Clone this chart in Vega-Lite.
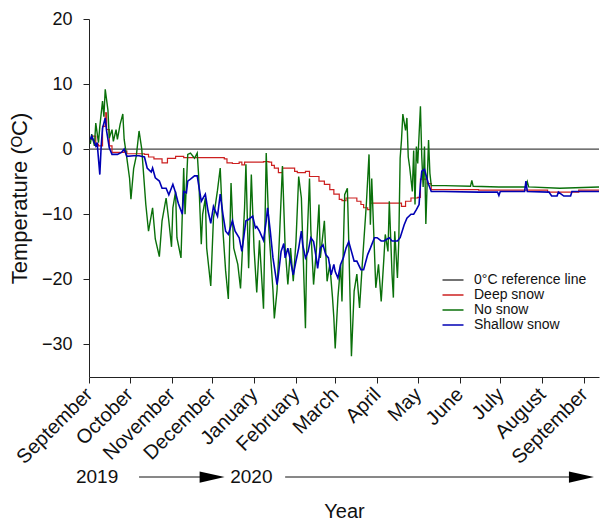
{
  "$schema": "https://vega.github.io/schema/vega-lite/v6.json",
  "padding": {"left": 8, "top": 10, "right": 0, "bottom": 0},
  "background": "white",
  "config": {
    "view": {"stroke": null},
    "font": "Liberation Sans",
    "axis": {"grid": false, "domainColor": "#222", "tickColor": "#222", "labelColor": "#111", "titleColor": "#111", "labelFont": "Liberation Sans", "titleFont": "Liberation Sans", "titleFontWeight": "normal", "tickSize": 6}
  },
  "datasets": {
    "ref": [{"s": "0°C reference line", "t": 0}],
    "years": [{"d": "2019-09-07", "label": "2019"}, {"d": "2019-12-30", "label": "2020"}],
    "arrows": [{"start": "2019-10-08", "end": "2019-12-01"}, {"start": "2020-01-24", "end": "2020-08-30"}],
    "temps": [
      {"d":"2019-09-02","s":"Deep snow","t":1.5},{"d":"2019-09-03","s":"Deep snow","t":2.0},{"d":"2019-09-06","s":"Deep snow","t":0.8},{"d":"2019-09-08","s":"Deep snow","t":0.5},{"d":"2019-09-11","s":"Deep snow","t":3.5},{"d":"2019-09-13","s":"Deep snow","t":5.6},{"d":"2019-09-14","s":"Deep snow","t":3.0},{"d":"2019-09-16","s":"Deep snow","t":0.5},{"d":"2019-09-18","s":"Deep snow","t":-0.5},{"d":"2019-09-27","s":"Deep snow","t":-0.3},{"d":"2019-09-29","s":"Deep snow","t":-0.7},{"d":"2019-10-08","s":"Deep snow","t":-0.7},{"d":"2019-10-12","s":"Deep snow","t":-0.8},{"d":"2019-10-15","s":"Deep snow","t":-1.2},{"d":"2019-10-19","s":"Deep snow","t":-1.5},{"d":"2019-10-23","s":"Deep snow","t":-1.5},{"d":"2019-10-25","s":"Deep snow","t":-2.1},{"d":"2019-10-29","s":"Deep snow","t":-1.4},{"d":"2019-11-04","s":"Deep snow","t":-1.1},{"d":"2019-11-10","s":"Deep snow","t":-1.3},{"d":"2019-11-21","s":"Deep snow","t":-1.3},{"d":"2019-12-10","s":"Deep snow","t":-1.5},{"d":"2019-12-12","s":"Deep snow","t":-2.1},{"d":"2019-12-16","s":"Deep snow","t":-2.2},{"d":"2019-12-21","s":"Deep snow","t":-2.0},{"d":"2019-12-23","s":"Deep snow","t":-2.4},{"d":"2019-12-25","s":"Deep snow","t":-2.0},{"d":"2020-01-08","s":"Deep snow","t":-1.9},{"d":"2020-01-12","s":"Deep snow","t":-2.0},{"d":"2020-01-14","s":"Deep snow","t":-2.5},{"d":"2020-01-16","s":"Deep snow","t":-2.9},{"d":"2020-01-19","s":"Deep snow","t":-3.6},{"d":"2020-01-22","s":"Deep snow","t":-2.9},{"d":"2020-01-28","s":"Deep snow","t":-2.9},{"d":"2020-01-31","s":"Deep snow","t":-3.4},{"d":"2020-02-02","s":"Deep snow","t":-3.6},{"d":"2020-02-08","s":"Deep snow","t":-3.4},{"d":"2020-02-11","s":"Deep snow","t":-4.2},{"d":"2020-02-16","s":"Deep snow","t":-4.2},{"d":"2020-02-18","s":"Deep snow","t":-4.9},{"d":"2020-02-22","s":"Deep snow","t":-5.4},{"d":"2020-02-26","s":"Deep snow","t":-6.2},{"d":"2020-02-29","s":"Deep snow","t":-6.9},{"d":"2020-03-04","s":"Deep snow","t":-7.7},{"d":"2020-03-06","s":"Deep snow","t":-7.9},{"d":"2020-03-09","s":"Deep snow","t":-7.5},{"d":"2020-03-15","s":"Deep snow","t":-7.5},{"d":"2020-03-17","s":"Deep snow","t":-8.0},{"d":"2020-03-20","s":"Deep snow","t":-8.5},{"d":"2020-03-22","s":"Deep snow","t":-9.0},{"d":"2020-03-25","s":"Deep snow","t":-9.3},{"d":"2020-03-27","s":"Deep snow","t":-8.3},{"d":"2020-04-17","s":"Deep snow","t":-8.3},{"d":"2020-04-19","s":"Deep snow","t":-8.8},{"d":"2020-04-22","s":"Deep snow","t":-8.0},{"d":"2020-04-26","s":"Deep snow","t":-7.5},{"d":"2020-05-01","s":"Deep snow","t":-7.4},{"d":"2020-05-03","s":"Deep snow","t":-4.6},{"d":"2020-05-06","s":"Deep snow","t":-4.6},{"d":"2020-05-08","s":"Deep snow","t":-5.3},{"d":"2020-05-11","s":"Deep snow","t":-6.2},{"d":"2020-06-15","s":"Deep snow","t":-6.3},{"d":"2020-07-31","s":"Deep snow","t":-6.3},{"d":"2020-08-05","s":"Deep snow","t":-6.6},{"d":"2020-08-25","s":"Deep snow","t":-6.6},{"d":"2020-08-28","s":"Deep snow","t":-6.3},{"d":"2020-09-12","s":"Deep snow","t":-6.3},

      {"d":"2019-09-02","s":"No snow","t":0.8},{"d":"2019-09-03","s":"No snow","t":2.3},{"d":"2019-09-05","s":"No snow","t":0.5},{"d":"2019-09-06","s":"No snow","t":4.0},{"d":"2019-09-08","s":"No snow","t":1.0},{"d":"2019-09-09","s":"No snow","t":3.5},{"d":"2019-09-11","s":"No snow","t":7.4},{"d":"2019-09-12","s":"No snow","t":5.0},{"d":"2019-09-13","s":"No snow","t":9.2},{"d":"2019-09-15","s":"No snow","t":6.0},{"d":"2019-09-16","s":"No snow","t":1.7},{"d":"2019-09-18","s":"No snow","t":3.0},{"d":"2019-09-19","s":"No snow","t":1.2},{"d":"2019-09-21","s":"No snow","t":3.0},{"d":"2019-09-22","s":"No snow","t":1.5},{"d":"2019-09-24","s":"No snow","t":3.8},{"d":"2019-09-26","s":"No snow","t":5.4},{"d":"2019-09-27","s":"No snow","t":1.5},{"d":"2019-09-29","s":"No snow","t":-1.4},{"d":"2019-10-01","s":"No snow","t":-4.5},{"d":"2019-10-02","s":"No snow","t":-7.7},{"d":"2019-10-04","s":"No snow","t":-3.0},{"d":"2019-10-06","s":"No snow","t":-1.0},{"d":"2019-10-08","s":"No snow","t":2.8},{"d":"2019-10-10","s":"No snow","t":0.0},{"d":"2019-10-13","s":"No snow","t":-8.5},{"d":"2019-10-15","s":"No snow","t":-12.6},{"d":"2019-10-18","s":"No snow","t":-9.0},{"d":"2019-10-20","s":"No snow","t":-13.8},{"d":"2019-10-23","s":"No snow","t":-16.5},{"d":"2019-10-25","s":"No snow","t":-11.0},{"d":"2019-10-28","s":"No snow","t":-7.5},{"d":"2019-10-30","s":"No snow","t":-11.0},{"d":"2019-11-01","s":"No snow","t":-15.0},{"d":"2019-11-02","s":"No snow","t":-9.0},{"d":"2019-11-04","s":"No snow","t":-6.5},{"d":"2019-11-05","s":"No snow","t":-13.6},{"d":"2019-11-08","s":"No snow","t":-16.7},{"d":"2019-11-10","s":"No snow","t":-2.9},{"d":"2019-11-11","s":"No snow","t":-10.0},{"d":"2019-11-13","s":"No snow","t":-0.8},{"d":"2019-11-15","s":"No snow","t":-0.6},{"d":"2019-11-18","s":"No snow","t":-1.4},{"d":"2019-11-20","s":"No snow","t":-0.6},{"d":"2019-11-21","s":"No snow","t":-3.9},{"d":"2019-11-23","s":"No snow","t":-14.6},{"d":"2019-11-24","s":"No snow","t":-10.0},{"d":"2019-11-26","s":"No snow","t":-7.5},{"d":"2019-11-27","s":"No snow","t":-15.2},{"d":"2019-11-30","s":"No snow","t":-21.0},{"d":"2019-12-02","s":"No snow","t":-10.6},{"d":"2019-12-05","s":"No snow","t":-6.3},{"d":"2019-12-07","s":"No snow","t":-2.9},{"d":"2019-12-09","s":"No snow","t":-12.5},{"d":"2019-12-11","s":"No snow","t":-18.7},{"d":"2019-12-13","s":"No snow","t":-23.0},{"d":"2019-12-15","s":"No snow","t":-5.2},{"d":"2019-12-17","s":"No snow","t":-15.2},{"d":"2019-12-20","s":"No snow","t":-17.7},{"d":"2019-12-22","s":"No snow","t":-21.4},{"d":"2019-12-25","s":"No snow","t":-9.0},{"d":"2019-12-26","s":"No snow","t":-2.3},{"d":"2019-12-28","s":"No snow","t":-18.3},{"d":"2019-12-30","s":"No snow","t":-3.9},{"d":"2020-01-01","s":"No snow","t":-15.2},{"d":"2020-01-03","s":"No snow","t":-22.0},{"d":"2020-01-05","s":"No snow","t":-14.0},{"d":"2020-01-08","s":"No snow","t":-24.5},{"d":"2020-01-10","s":"No snow","t":-0.6},{"d":"2020-01-12","s":"No snow","t":-12.5},{"d":"2020-01-15","s":"No snow","t":-21.7},{"d":"2020-01-16","s":"No snow","t":-26.0},{"d":"2020-01-18","s":"No snow","t":-21.7},{"d":"2020-01-20","s":"No snow","t":-12.5},{"d":"2020-01-22","s":"No snow","t":-2.6},{"d":"2020-01-24","s":"No snow","t":-15.2},{"d":"2020-01-26","s":"No snow","t":-20.8},{"d":"2020-01-28","s":"No snow","t":-15.2},{"d":"2020-01-30","s":"No snow","t":-20.3},{"d":"2020-02-01","s":"No snow","t":-14.2},{"d":"2020-02-03","s":"No snow","t":-4.2},{"d":"2020-02-05","s":"No snow","t":-7.5},{"d":"2020-02-06","s":"No snow","t":-14.2},{"d":"2020-02-08","s":"No snow","t":-27.5},{"d":"2020-02-09","s":"No snow","t":-15.2},{"d":"2020-02-11","s":"No snow","t":-4.5},{"d":"2020-02-12","s":"No snow","t":-12.5},{"d":"2020-02-14","s":"No snow","t":-20.8},{"d":"2020-02-16","s":"No snow","t":-15.7},{"d":"2020-02-18","s":"No snow","t":-8.5},{"d":"2020-02-19","s":"No snow","t":-16.7},{"d":"2020-02-22","s":"No snow","t":-11.0},{"d":"2020-02-24","s":"No snow","t":-20.3},{"d":"2020-02-26","s":"No snow","t":-17.7},{"d":"2020-02-28","s":"No snow","t":-22.8},{"d":"2020-02-29","s":"No snow","t":-25.9},{"d":"2020-03-01","s":"No snow","t":-30.6},{"d":"2020-03-03","s":"No snow","t":-22.8},{"d":"2020-03-05","s":"No snow","t":-17.7},{"d":"2020-03-06","s":"No snow","t":-23.4},{"d":"2020-03-08","s":"No snow","t":-7.0},{"d":"2020-03-10","s":"No snow","t":-6.0},{"d":"2020-03-11","s":"No snow","t":-14.1},{"d":"2020-03-13","s":"No snow","t":-31.8},{"d":"2020-03-15","s":"No snow","t":-21.8},{"d":"2020-03-17","s":"No snow","t":-19.2},{"d":"2020-03-19","s":"No snow","t":-24.4},{"d":"2020-03-21","s":"No snow","t":-17.7},{"d":"2020-03-24","s":"No snow","t":-8.5},{"d":"2020-03-26","s":"No snow","t":-0.8},{"d":"2020-03-27","s":"No snow","t":-11.6},{"d":"2020-03-28","s":"No snow","t":-4.5},{"d":"2020-03-30","s":"No snow","t":-15.7},{"d":"2020-03-31","s":"No snow","t":-21.3},{"d":"2020-04-02","s":"No snow","t":-17.7},{"d":"2020-04-04","s":"No snow","t":-23.4},{"d":"2020-04-06","s":"No snow","t":-16.7},{"d":"2020-04-07","s":"No snow","t":-13.1},{"d":"2020-04-09","s":"No snow","t":-15.7},{"d":"2020-04-10","s":"No snow","t":-8.0},{"d":"2020-04-12","s":"No snow","t":-19.2},{"d":"2020-04-13","s":"No snow","t":-22.8},{"d":"2020-04-14","s":"No snow","t":-12.6},{"d":"2020-04-16","s":"No snow","t":-19.8},{"d":"2020-04-17","s":"No snow","t":-14.1},{"d":"2020-04-18","s":"No snow","t":-1.4},{"d":"2020-04-19","s":"No snow","t":1.4},{"d":"2020-04-20","s":"No snow","t":5.4},{"d":"2020-04-22","s":"No snow","t":2.9},{"d":"2020-04-23","s":"No snow","t":4.8},{"d":"2020-04-24","s":"No snow","t":-1.2},{"d":"2020-04-25","s":"No snow","t":-2.7},{"d":"2020-04-27","s":"No snow","t":-6.5},{"d":"2020-04-28","s":"No snow","t":-0.2},{"d":"2020-04-29","s":"No snow","t":-8.5},{"d":"2020-04-30","s":"No snow","t":0.4},{"d":"2020-05-01","s":"No snow","t":-2.2},{"d":"2020-05-03","s":"No snow","t":6.6},{"d":"2020-05-04","s":"No snow","t":-1.2},{"d":"2020-05-05","s":"No snow","t":-5.8},{"d":"2020-05-06","s":"No snow","t":0.4},{"d":"2020-05-07","s":"No snow","t":-11.5},{"d":"2020-05-09","s":"No snow","t":1.4},{"d":"2020-05-10","s":"No snow","t":-3.7},{"d":"2020-05-11","s":"No snow","t":-5.6},{"d":"2020-05-21","s":"No snow","t":-5.6},{"d":"2020-06-09","s":"No snow","t":-5.7},{"d":"2020-06-10","s":"No snow","t":-4.8},{"d":"2020-06-11","s":"No snow","t":-5.7},{"d":"2020-06-30","s":"No snow","t":-5.8},{"d":"2020-07-20","s":"No snow","t":-5.8},{"d":"2020-07-21","s":"No snow","t":-5.0},{"d":"2020-07-22","s":"No snow","t":-5.8},{"d":"2020-08-14","s":"No snow","t":-6.0},{"d":"2020-09-12","s":"No snow","t":-5.8},

      {"d":"2019-09-02","s":"Shallow snow","t":1.5},{"d":"2019-09-03","s":"Shallow snow","t":2.0},{"d":"2019-09-06","s":"Shallow snow","t":0.5},{"d":"2019-09-07","s":"Shallow snow","t":1.0},{"d":"2019-09-09","s":"Shallow snow","t":-3.9},{"d":"2019-09-10","s":"Shallow snow","t":0.5},{"d":"2019-09-11","s":"Shallow snow","t":3.2},{"d":"2019-09-13","s":"Shallow snow","t":4.8},{"d":"2019-09-14","s":"Shallow snow","t":2.8},{"d":"2019-09-16","s":"Shallow snow","t":0.2},{"d":"2019-09-18","s":"Shallow snow","t":-0.8},{"d":"2019-09-22","s":"Shallow snow","t":-0.8},{"d":"2019-09-25","s":"Shallow snow","t":-0.5},{"d":"2019-09-27","s":"Shallow snow","t":0.0},{"d":"2019-09-29","s":"Shallow snow","t":-1.1},{"d":"2019-10-04","s":"Shallow snow","t":-1.0},{"d":"2019-10-08","s":"Shallow snow","t":-1.0},{"d":"2019-10-12","s":"Shallow snow","t":-1.2},{"d":"2019-10-14","s":"Shallow snow","t":-2.9},{"d":"2019-10-17","s":"Shallow snow","t":-3.5},{"d":"2019-10-18","s":"Shallow snow","t":-2.9},{"d":"2019-10-20","s":"Shallow snow","t":-4.4},{"d":"2019-10-23","s":"Shallow snow","t":-4.9},{"d":"2019-10-25","s":"Shallow snow","t":-6.0},{"d":"2019-10-28","s":"Shallow snow","t":-6.0},{"d":"2019-10-30","s":"Shallow snow","t":-7.0},{"d":"2019-11-02","s":"Shallow snow","t":-5.4},{"d":"2019-11-04","s":"Shallow snow","t":-6.7},{"d":"2019-11-06","s":"Shallow snow","t":-8.3},{"d":"2019-11-09","s":"Shallow snow","t":-10.0},{"d":"2019-11-10","s":"Shallow snow","t":-6.5},{"d":"2019-11-12","s":"Shallow snow","t":-6.7},{"d":"2019-11-13","s":"Shallow snow","t":-4.9},{"d":"2019-11-15","s":"Shallow snow","t":-4.6},{"d":"2019-11-18","s":"Shallow snow","t":-4.1},{"d":"2019-11-20","s":"Shallow snow","t":-4.1},{"d":"2019-11-21","s":"Shallow snow","t":-5.4},{"d":"2019-11-23","s":"Shallow snow","t":-8.0},{"d":"2019-11-26","s":"Shallow snow","t":-6.9},{"d":"2019-11-28","s":"Shallow snow","t":-9.5},{"d":"2019-11-30","s":"Shallow snow","t":-11.4},{"d":"2019-12-02","s":"Shallow snow","t":-8.8},{"d":"2019-12-05","s":"Shallow snow","t":-10.3},{"d":"2019-12-07","s":"Shallow snow","t":-6.9},{"d":"2019-12-09","s":"Shallow snow","t":-10.0},{"d":"2019-12-11","s":"Shallow snow","t":-12.6},{"d":"2019-12-13","s":"Shallow snow","t":-13.1},{"d":"2019-12-16","s":"Shallow snow","t":-11.0},{"d":"2019-12-18","s":"Shallow snow","t":-12.6},{"d":"2019-12-21","s":"Shallow snow","t":-13.6},{"d":"2019-12-23","s":"Shallow snow","t":-15.7},{"d":"2019-12-25","s":"Shallow snow","t":-12.6},{"d":"2019-12-26","s":"Shallow snow","t":-11.0},{"d":"2019-12-28","s":"Shallow snow","t":-10.8},{"d":"2019-12-31","s":"Shallow snow","t":-10.3},{"d":"2020-01-02","s":"Shallow snow","t":-12.1},{"d":"2020-01-03","s":"Shallow snow","t":-11.9},{"d":"2020-01-05","s":"Shallow snow","t":-12.6},{"d":"2020-01-08","s":"Shallow snow","t":-14.0},{"d":"2020-01-10","s":"Shallow snow","t":-11.0},{"d":"2020-01-11","s":"Shallow snow","t":-9.0},{"d":"2020-01-13","s":"Shallow snow","t":-12.6},{"d":"2020-01-15","s":"Shallow snow","t":-16.7},{"d":"2020-01-18","s":"Shallow snow","t":-20.8},{"d":"2020-01-19","s":"Shallow snow","t":-19.3},{"d":"2020-01-21","s":"Shallow snow","t":-15.7},{"d":"2020-01-23","s":"Shallow snow","t":-14.5},{"d":"2020-01-24","s":"Shallow snow","t":-16.7},{"d":"2020-01-26","s":"Shallow snow","t":-15.2},{"d":"2020-01-28","s":"Shallow snow","t":-17.2},{"d":"2020-01-30","s":"Shallow snow","t":-19.3},{"d":"2020-02-01","s":"Shallow snow","t":-17.2},{"d":"2020-02-03","s":"Shallow snow","t":-15.2},{"d":"2020-02-05","s":"Shallow snow","t":-12.6},{"d":"2020-02-06","s":"Shallow snow","t":-14.7},{"d":"2020-02-08","s":"Shallow snow","t":-16.7},{"d":"2020-02-10","s":"Shallow snow","t":-15.7},{"d":"2020-02-12","s":"Shallow snow","t":-13.6},{"d":"2020-02-14","s":"Shallow snow","t":-14.2},{"d":"2020-02-16","s":"Shallow snow","t":-16.7},{"d":"2020-02-17","s":"Shallow snow","t":-18.3},{"d":"2020-02-19","s":"Shallow snow","t":-15.2},{"d":"2020-02-21","s":"Shallow snow","t":-14.7},{"d":"2020-02-23","s":"Shallow snow","t":-16.2},{"d":"2020-02-25","s":"Shallow snow","t":-16.7},{"d":"2020-02-27","s":"Shallow snow","t":-19.3},{"d":"2020-02-29","s":"Shallow snow","t":-17.7},{"d":"2020-03-01","s":"Shallow snow","t":-18.8},{"d":"2020-03-03","s":"Shallow snow","t":-19.8},{"d":"2020-03-05","s":"Shallow snow","t":-17.7},{"d":"2020-03-07","s":"Shallow snow","t":-16.7},{"d":"2020-03-09","s":"Shallow snow","t":-15.2},{"d":"2020-03-11","s":"Shallow snow","t":-14.2},{"d":"2020-03-13","s":"Shallow snow","t":-15.7},{"d":"2020-03-15","s":"Shallow snow","t":-17.2},{"d":"2020-03-17","s":"Shallow snow","t":-17.2},{"d":"2020-03-20","s":"Shallow snow","t":-18.5},{"d":"2020-03-22","s":"Shallow snow","t":-18.5},{"d":"2020-03-25","s":"Shallow snow","t":-16.2},{"d":"2020-03-27","s":"Shallow snow","t":-15.2},{"d":"2020-03-30","s":"Shallow snow","t":-13.6},{"d":"2020-04-01","s":"Shallow snow","t":-13.6},{"d":"2020-04-04","s":"Shallow snow","t":-14.1},{"d":"2020-04-06","s":"Shallow snow","t":-14.1},{"d":"2020-04-10","s":"Shallow snow","t":-13.6},{"d":"2020-04-12","s":"Shallow snow","t":-14.1},{"d":"2020-04-16","s":"Shallow snow","t":-14.1},{"d":"2020-04-18","s":"Shallow snow","t":-13.6},{"d":"2020-04-21","s":"Shallow snow","t":-11.6},{"d":"2020-04-23","s":"Shallow snow","t":-10.6},{"d":"2020-04-26","s":"Shallow snow","t":-10.0},{"d":"2020-04-28","s":"Shallow snow","t":-10.0},{"d":"2020-04-30","s":"Shallow snow","t":-9.3},{"d":"2020-05-02","s":"Shallow snow","t":-8.5},{"d":"2020-05-03","s":"Shallow snow","t":-5.4},{"d":"2020-05-04","s":"Shallow snow","t":-3.4},{"d":"2020-05-06","s":"Shallow snow","t":-3.1},{"d":"2020-05-07","s":"Shallow snow","t":-3.9},{"d":"2020-05-09","s":"Shallow snow","t":-5.4},{"d":"2020-05-11","s":"Shallow snow","t":-6.5},{"d":"2020-05-20","s":"Shallow snow","t":-6.5},{"d":"2020-06-15","s":"Shallow snow","t":-6.6},{"d":"2020-06-29","s":"Shallow snow","t":-6.6},{"d":"2020-06-30","s":"Shallow snow","t":-7.1},{"d":"2020-07-01","s":"Shallow snow","t":-6.5},{"d":"2020-07-19","s":"Shallow snow","t":-6.5},{"d":"2020-07-20","s":"Shallow snow","t":-4.9},{"d":"2020-07-21","s":"Shallow snow","t":-6.5},{"d":"2020-08-06","s":"Shallow snow","t":-6.6},{"d":"2020-08-08","s":"Shallow snow","t":-7.2},{"d":"2020-08-12","s":"Shallow snow","t":-7.2},{"d":"2020-08-13","s":"Shallow snow","t":-6.6},{"d":"2020-08-17","s":"Shallow snow","t":-7.2},{"d":"2020-08-22","s":"Shallow snow","t":-7.2},{"d":"2020-08-23","s":"Shallow snow","t":-6.5},{"d":"2020-09-12","s":"Shallow snow","t":-6.5}
    ]
  },
  "spacing": 90,
  "bounds": "flush",
  "vconcat": [
    {
      "width": 510,
      "height": 358,
      "layer": [
        {
          "data": {"name": "ref"},
          "mark": {"type": "rule", "strokeWidth": 1.3},
          "encoding": {
            "y": {"field": "t", "type": "quantitative", "scale": {"domain": [-35, 20], "nice": false, "zero": false}, "axis": {"values": [-30, -20, -10, 0, 10, 20], "title": "Temperature (ᴼC)", "titleFontSize": 22, "labelFontSize": 18, "labelPadding": 11, "titlePadding": 10}},
            "color": {
              "field": "s", "type": "nominal",
              "scale": {"domain": ["0°C reference line", "Deep snow", "No snow", "Shallow snow"], "range": ["#444444", "#cc2020", "#0a700a", "#0000b4"]},
              "legend": {"title": null, "orient": "none", "legendX": 357, "legendY": 254, "padding": 0, "symbolType": "M-3,0H3", "symbolSize": 49, "symbolStrokeWidth": 1.5, "labelFontSize": 14, "labelFont": "Liberation Sans", "labelColor": "#111", "labelOffset": 14, "rowPadding": 1}
            }
          }
        },
        {
          "data": {"name": "temps"},
          "transform": [{"filter": "datum.s === 'Deep snow'"}],
          "mark": {"type": "line", "strokeWidth": 1.2, "interpolate": "step-after"},
          "encoding": {
            "x": {"field": "d", "type": "temporal", "scale": {"type": "utc", "domain": [{"year": 2019, "month": 9, "date": 1, "utc": true}, {"year": 2020, "month": 9, "date": 12, "utc": true}]}, "axis": {"title": null, "format": "%B", "labelAngle": -45, "labelFontSize": 20, "labelBaseline": "middle", "labelAlign": "right", "labelPadding": 8, "labelOverlap": false, "labelBound": false, "labelFlush": false, "values": [{"year": 2019, "month": 9, "date": 1, "utc": true}, {"year": 2019, "month": 10, "date": 1, "utc": true}, {"year": 2019, "month": 11, "date": 1, "utc": true}, {"year": 2019, "month": 12, "date": 1, "utc": true}, {"year": 2020, "month": 1, "date": 1, "utc": true}, {"year": 2020, "month": 2, "date": 1, "utc": true}, {"year": 2020, "month": 3, "date": 1, "utc": true}, {"year": 2020, "month": 4, "date": 1, "utc": true}, {"year": 2020, "month": 5, "date": 1, "utc": true}, {"year": 2020, "month": 6, "date": 1, "utc": true}, {"year": 2020, "month": 7, "date": 1, "utc": true}, {"year": 2020, "month": 8, "date": 1, "utc": true}, {"year": 2020, "month": 9, "date": 1, "utc": true}]}},
            "y": {"field": "t", "type": "quantitative"},
            "color": {"field": "s", "type": "nominal"}
          }
        },
        {
          "data": {"name": "temps"},
          "transform": [{"filter": "datum.s === 'No snow'"}],
          "mark": {"type": "line", "strokeWidth": 1.4},
          "encoding": {
            "x": {"field": "d", "type": "temporal"},
            "y": {"field": "t", "type": "quantitative"},
            "color": {"field": "s", "type": "nominal"}
          }
        },
        {
          "data": {"name": "temps"},
          "transform": [{"filter": "datum.s === 'Shallow snow'"}],
          "mark": {"type": "line", "strokeWidth": 1.6},
          "encoding": {
            "x": {"field": "d", "type": "temporal"},
            "y": {"field": "t", "type": "quantitative"},
            "color": {"field": "s", "type": "nominal"}
          }
        }
      ]
    },
    {
      "width": 510,
      "height": 20,
      "layer": [
        {
          "data": {"name": "arrows"},
          "mark": {"type": "rule", "color": "#111", "strokeWidth": 1},
          "encoding": {
            "x": {"field": "start", "type": "temporal", "scale": {"type": "utc", "domain": [{"year": 2019, "month": 9, "date": 1, "utc": true}, {"year": 2020, "month": 9, "date": 12, "utc": true}]}, "axis": {"title": "Year", "labels": false, "ticks": false, "domain": false, "titleFontSize": 20, "titlePadding": 14}},
            "x2": {"field": "end"},
            "y": {"datum": 0, "type": "quantitative", "scale": {"domain": [-1, 1]}, "axis": null}
          }
        },
        {
          "data": {"name": "arrows"},
          "mark": {"type": "point", "shape": "M-1,-0.45L1,0L-1,0.45Z", "filled": true, "size": 625, "color": "#000", "opacity": 1},
          "encoding": {
            "x": {"field": "end", "type": "temporal"},
            "y": {"datum": 0, "type": "quantitative"}
          }
        },
        {
          "data": {"name": "years"},
          "mark": {"type": "text", "fontSize": 19, "font": "Liberation Sans", "color": "#111", "baseline": "middle"},
          "encoding": {
            "x": {"field": "d", "type": "temporal"},
            "y": {"datum": 0, "type": "quantitative"},
            "text": {"field": "label"}
          }
        }
      ]
    }
  ]
}
